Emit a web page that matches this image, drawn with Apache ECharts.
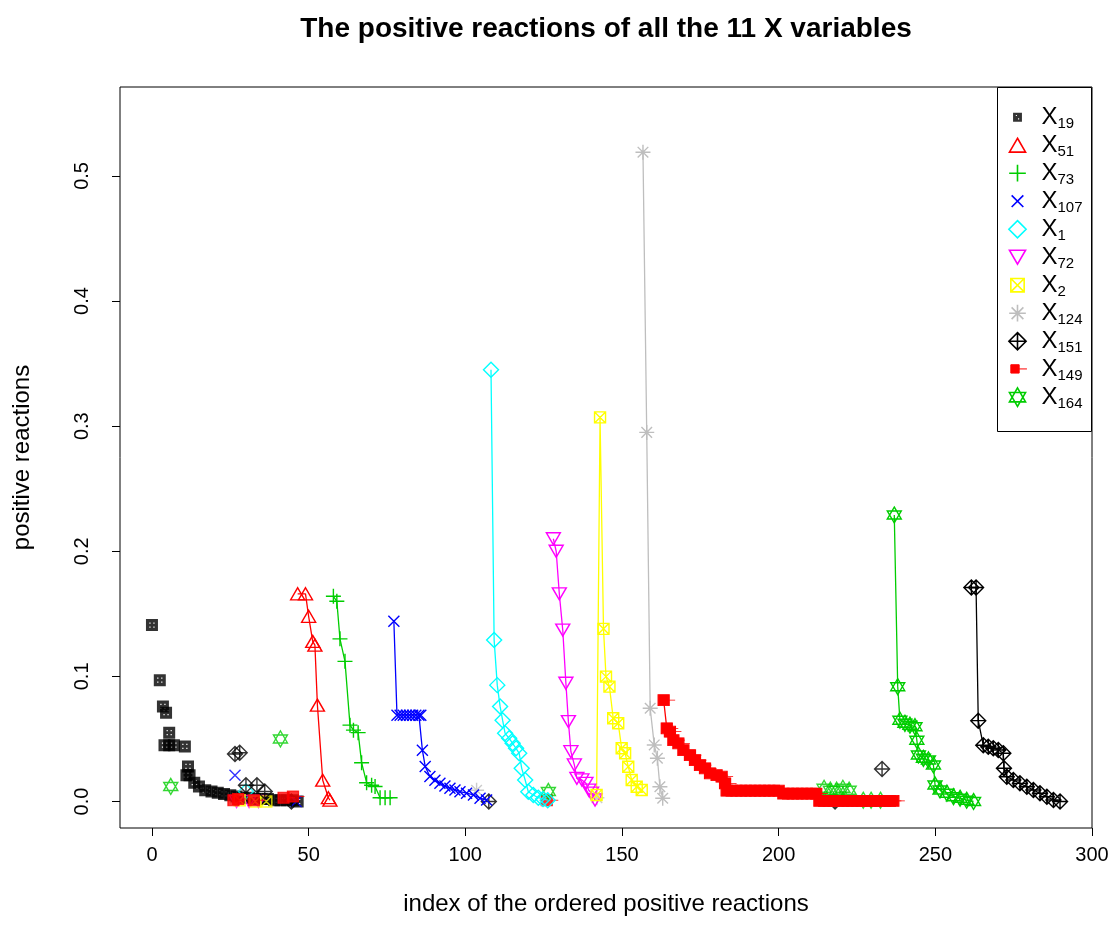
<!DOCTYPE html>
<html>
<head>
<meta charset="utf-8">
<script src="https://cdn.jsdelivr.net/npm/echarts@6/dist/echarts.min.js"></script>
<style>
  html, body { margin: 0; padding: 0; background: #fff; }
  #chart { width: 1112px; height: 943px; }
</style>
</head>
<body>
<div id="chart"></div>
<script>
const FONT = '"Liberation Sans", Arial, Helvetica, sans-serif';

// Tick values
const xTicks = [0, 50, 100, 150, 200, 250, 300];
const yTicks = [0, 0.1, 0.2, 0.3, 0.4, 0.5];

// [index, positive reaction] pairs.
// *Run = connected sequence (points joined by a line), *Pts = isolated points.
const x19Pts = [[0,0.141],[2.5,0.097],[3.5,0.076],[4,0.045],[4.5,0.071],[5.5,0.055],[5.5,0.045],[7,0.045],[10.5,0.044],[11,0.021],[11.5,0.028],[12,0.021],[13.5,0.015],[15,0.012],[17,0.009],[19,0.008],[21,0.007],[23,0.006],[25,0.005],[27,0.004],[29,0.003],[31,0.003],[33,0.002],[35,0.002],[37,0.002],[39,0.001],[41,0.001],[43,0.001],[45,0.001],[46.5,0.0]];

const x51Run = [[46.5,0.166],[49,0.166],[50,0.148],[51.3,0.128],[52,0.125],[52.8,0.077],[54.5,0.017],[56.3,0.003],[56.8,0.001]];

const x73Run = [[57.9,0.164],[59,0.160],[60,0.130],[61.6,0.112],[63.2,0.061],[64.3,0.057],[65.8,0.055],[66.9,0.031],[68.5,0.015],[70.1,0.013],[71.2,0.012],[72.8,0.003],[74.4,0.003],[76,0.003]];

const x107Run = [[77.2,0.144],[78.2,0.069],[79.2,0.069],[80.2,0.069],[81.2,0.069],[82.2,0.069],[83.2,0.069],[84.2,0.069],[85.2,0.069],[85.8,0.069],[86.3,0.041],[87.2,0.028],[88.7,0.020],[90.3,0.017],[91.9,0.0145],[93.5,0.0124],[95.1,0.0105],[96.7,0.0092],[98.3,0.0078],[100.4,0.0066],[102.6,0.0052],[104.7,0.0026],[106.8,0.0012]];
const x107Pts = [[26.5,0.021],[46,0.0]];

const x1Run = [[108.2,0.345],[109.2,0.129],[110.2,0.093],[111.1,0.076],[111.9,0.065],[112.7,0.0545],[114,0.0505],[115.1,0.0465],[116.2,0.0425],[117.2,0.0385],[118,0.0265],[119.1,0.0172],[120.1,0.0078],[121.7,0.0052],[123.3,0.003],[124.8,0.002],[126.3,0.001]];
const x1Pts = [[30,0.008]];

const x72Run = [[128.1,0.210],[129,0.200],[130,0.166],[131.1,0.137],[132.1,0.0945],[132.9,0.0638],[133.7,0.0398],[134.8,0.0292],[135.6,0.0185],[137.2,0.0172],[138.5,0.0145],[139.4,0.009],[140.3,0.0066],[141.4,0.0012]];
const x72Pts = [[27,0.0],[31,0.0],[34,0.0]];

const x2Run = [[141.9,0.0052],[143,0.307],[144.1,0.138],[144.9,0.0998],[146,0.0918],[147.2,0.0665],[148.8,0.0625],[149.9,0.0425],[151,0.0385],[152,0.0278],[153.1,0.0172],[154.7,0.0118],[156.3,0.0092]];
const x2Pts = [[28,0.001],[33,0.0],[36.5,0.0]];

const x124Run = [[156.7,0.519],[157.9,0.295],[159,0.0745],[160.3,0.0452],[161.3,0.0345],[162.1,0.0118],[163,0.0026]];
const x124Pts = [[103.6,0.009],[142,0.003]];

const x151Run = [[261.5,0.171],[263,0.171],[263.7,0.0646],[265.3,0.045],[266.9,0.0438],[268.5,0.0425],[270.1,0.0412],[271.7,0.0385],[271.9,0.0265],[272.8,0.0198],[274.9,0.0172],[277,0.0145],[279.2,0.0118],[281.3,0.0092],[283.4,0.0066],[285.6,0.0038],[287.7,0.0012],[289.8,0.0]];
const x151Pts = [[26.5,0.038],[28,0.039],[30,0.013],[33.5,0.013],[36,0.008],[44.5,0.0],[107.5,0.0],[218,0.0],[233,0.026]];

const x149Run = [[163.3,0.081],[164.3,0.0585],[165.3,0.0558],[166.4,0.049],[168,0.0465],[169.6,0.041],[171.7,0.037],[173.3,0.033],[174.9,0.029],[176.5,0.0265],[178.1,0.0225],[180.2,0.021],[181.8,0.0198],[182.9,0.0145],[183.4,0.0086],[185,0.0086],[186.5,0.0086],[188,0.0086],[189.5,0.0086],[191,0.0086],[192.5,0.0086],[194,0.0086],[195.5,0.0086],[197,0.0086],[198.5,0.0086],[200,0.0086],[201.5,0.0063],[203,0.0063],[204.5,0.0063],[206,0.0063],[207.5,0.0063],[209,0.0063],[210.5,0.0063],[212,0.0063],[213,0.0005],[214.5,0.0005],[216,0.0005],[217.5,0.0005],[219,0.0005],[220.5,0.0005],[222,0.0005],[223.5,0.0005],[225,0.0005],[226.5,0.0005],[228,0.0005],[229.5,0.0005],[231,0.0005],[232.5,0.0005],[234,0.0005],[235.5,0.0005],[236.6,0.0005]];
const x149Pts = [[26,0.001],[27.5,0.002],[32.5,0.001],[42,0.003],[45,0.004],[126,0.001]];

const x164Run = [[236.9,0.229],[238,0.0918],[238.7,0.065],[240.3,0.0625],[241.9,0.061],[243.5,0.0598],[244.1,0.049],[244.6,0.0372],[246.2,0.0345],[247.8,0.0332],[249.4,0.0292],[249.9,0.0132],[251.5,0.0092],[253.7,0.0066],[255.8,0.0038],[257.9,0.0026],[260,0.001],[262.2,0.0]];
const x164Pts = [[6,0.012],[41,0.05],[126.5,0.008],[214.5,0.0105],[216.5,0.009],[218.5,0.009],[220.5,0.0105],[222.5,0.009],[227,0.001],[229.5,0.001],[232.5,0.001]];

// Marker shapes (plot symbol, legend icon drawn inside an 18x18 frame)
const SHAPES = {
  square:   { path: 'path://M0,0H12V12H0ZM3.4,3.4V4.6H4.6V3.4ZM7.4,3.4V4.6H8.6V3.4ZM3.4,7.4V8.6H4.6V7.4ZM7.4,7.4V8.6H8.6V7.4Z', size: [12, 12], filled: true, bw: 0,
              icon: 'path://M0,0M18,18M5,5H13V13H5ZM7.5,7V8H8.5V7ZM9.5,10V11H10.5V10Z' },
  triangle: { path: 'path://M7,0L14,12L0,12Z', size: [14, 12],
              icon: 'path://M0,0M18,18M9,2.75L16.25,15.25L1.75,15.25Z' },
  plus:     { path: 'path://M0,7.5H15M7.5,0V15', size: [15, 15],
              icon: 'path://M0,0M18,18M1.5,9H16.5M9,1.5V16.5' },
  cross:    { path: 'path://M0,0L11,11M11,0L0,11', size: [11, 11],
              icon: 'path://M0,0M18,18M3.75,3.75L14.25,14.25M14.25,3.75L3.75,14.25' },
  diamond:  { path: 'path://M7.5,0L15,7.5L7.5,15L0,7.5Z', size: [15, 15],
              icon: 'path://M0,0M18,18M9,1.25L16.75,9L9,16.75L1.25,9Z' },
  invTri:   { path: 'path://M0,0H14L7,12Z', size: [14, 12],
              icon: 'path://M0,0M18,18M1.75,2.75H16.25L9,15.25Z' },
  boxX:     { path: 'path://M0,0H11V11H0ZM0,0L11,11M11,0L0,11', size: [11, 11],
              icon: 'path://M0,0M18,18M3,3H15V15H3ZM3,3L15,15M15,3L3,15' },
  aster:    { path: 'path://M0,7.5H15M7.5,0V15M2.2,2.2L12.8,12.8M12.8,2.2L2.2,12.8', size: [15, 15],
              icon: 'path://M0,0M18,18M1.5,9H16.5M9,1.5V16.5M3.7,3.7L14.3,14.3M14.3,3.7L3.7,14.3' },
  diaPlus:  { path: 'path://M7.5,0L15,7.5L7.5,15L0,7.5ZM0,7.5H15M7.5,0V15', size: [15, 15],
              icon: 'path://M0,0M18,18M9,1.25L16.75,9L9,16.75L1.25,9ZM1.25,9H16.75M9,1.25V16.75' },
  sqDash:   { path: 'path://M0,0H11V11H0ZM11,5.5H17', size: [17, 11], offset: [3, 0], filled: true, bw: 1,
              icon: 'path://M0,0M18,18M3,5H10.5V12.5H3ZM10.5,8.75H17.5' },
  star:     { path: 'path://M7,0L14,12.12L0,12.12ZM0,4.04H14L7,16.16Z', size: [14, 16],
              icon: 'path://M0,0M18,18M9,0.63L16.25,13.19L1.75,13.19ZM1.75,4.81H16.25L9,17.37Z' }
};

const VARS = [
  { name: 'X19',  color: '#000000', shape: 'square',   pts: x19Pts },
  { name: 'X51',  color: '#FF0000', shape: 'triangle', run: x51Run },
  { name: 'X73',  color: '#00CD00', shape: 'plus',     run: x73Run },
  { name: 'X107', color: '#0000FF', shape: 'cross',    run: x107Run, pts: x107Pts },
  { name: 'X1',   color: '#00FFFF', shape: 'diamond',  run: x1Run,   pts: x1Pts },
  { name: 'X72',  color: '#FF00FF', shape: 'invTri',   run: x72Run,  pts: x72Pts },
  { name: 'X2',   color: '#FFFF00', shape: 'boxX',     run: x2Run,   pts: x2Pts },
  { name: 'X124', color: '#BEBEBE', shape: 'aster',    run: x124Run, pts: x124Pts },
  { name: 'X151', color: '#000000', shape: 'diaPlus',  run: x151Run, pts: x151Pts },
  { name: 'X149', color: '#FF0000', shape: 'sqDash',   run: x149Run, pts: x149Pts },
  { name: 'X164', color: '#00CD00', shape: 'star',     run: x164Run, pts: x164Pts }
];

function markerStyle(v, legend) {
  const s = SHAPES[v.shape];
  return {
    color: s.filled ? v.color : 'rgba(0,0,0,0)',
    borderColor: v.color,
    borderWidth: s.bw !== undefined ? s.bw : (legend ? 1.6 : 1.4)
  };
}

const series = [];
VARS.forEach(v => {
  const s = SHAPES[v.shape];
  const common = {
    name: v.name,
    symbol: s.path,
    symbolSize: s.size,
    symbolOffset: s.offset || [0, 0],
    itemStyle: markerStyle(v, false),
    emphasis: { disabled: true },
    silent: true,
    animation: false
  };
  if (v.run) {
    series.push(Object.assign({}, common, {
      type: 'line',
      data: v.run,
      showSymbol: true,
      showAllSymbol: true,
      lineStyle: { color: v.color, width: 1.3 }
    }));
  }
  if (v.pts) {
    series.push(Object.assign({}, common, { type: 'scatter', data: v.pts }));
  }
});

const chart = echarts.init(document.getElementById('chart'), null, { renderer: 'canvas' });
chart.setOption({
  backgroundColor: '#ffffff',
  animation: false,
  textStyle: { fontFamily: FONT },
  grid: {
    left: 120, right: 20, top: 87, bottom: 115,
    show: true, borderColor: '#000', borderWidth: 1, backgroundColor: 'transparent',
    containLabel: false, outerBoundsMode: 'none'
  },
  graphic: [
    {
      type: 'text', x: 606, y: 29, z: 10,
      style: {
        text: 'The positive reactions of all the 11 X variables',
        fontFamily: FONT, fontSize: 28, fontWeight: 'bold', fill: '#000',
        textAlign: 'center', textVerticalAlign: 'middle'
      }
    },
    {
      type: 'rect', z: 3,
      shape: { x: 997.5, y: 87.5, width: 94, height: 344 },
      style: { fill: '#fff', stroke: '#000', lineWidth: 1 }
    }
  ],
  xAxis: {
    type: 'value', min: -10.2, max: 300,
    name: 'index of the ordered positive reactions',
    nameLocation: 'middle', nameGap: 64,
    nameTextStyle: { fontFamily: FONT, fontSize: 24, color: '#000' },
    axisLine: { show: false, onZero: false },
    splitLine: { show: false },
    axisTick: { show: true, length: 8, customValues: xTicks, lineStyle: { color: '#000', width: 1 } },
    axisLabel: { customValues: xTicks, fontFamily: FONT, fontSize: 20, color: '#000', margin: 17 }
  },
  yAxis: {
    type: 'value', min: -0.0212, max: 0.5711,
    name: 'positive reactions',
    nameLocation: 'middle', nameGap: 86,
    nameTextStyle: { fontFamily: FONT, fontSize: 24, color: '#000' },
    axisLine: { show: false, onZero: false },
    splitLine: { show: false },
    axisTick: { show: true, length: 8, customValues: yTicks, lineStyle: { color: '#000', width: 1 } },
    axisLabel: {
      customValues: yTicks, rotate: 90, fontFamily: FONT, fontSize: 20, color: '#000', margin: 28,
      formatter: v => v.toFixed(1)
    }
  },
  legend: {
    orient: 'vertical', left: 1006.7, top: 105.2, padding: 0,
    itemWidth: 20, itemHeight: 20, itemGap: 2,
    selectedMode: false, z: 5,
    data: VARS.map(v => ({ name: v.name, icon: SHAPES[v.shape].icon, itemStyle: markerStyle(v, true) })),
    formatter: name => '{x|X}{s|' + name.slice(1) + '}',
    textStyle: {
      fontFamily: FONT, color: '#000',
      rich: {
        x: { fontFamily: FONT, fontSize: 24, lineHeight: 28, color: '#000', padding: [0, 0, 0, 9] },
        s: { fontFamily: FONT, fontSize: 15, color: '#000', verticalAlign: 'bottom' }
      }
    }
  },
  series: series
});
</script>
</body>
</html>
